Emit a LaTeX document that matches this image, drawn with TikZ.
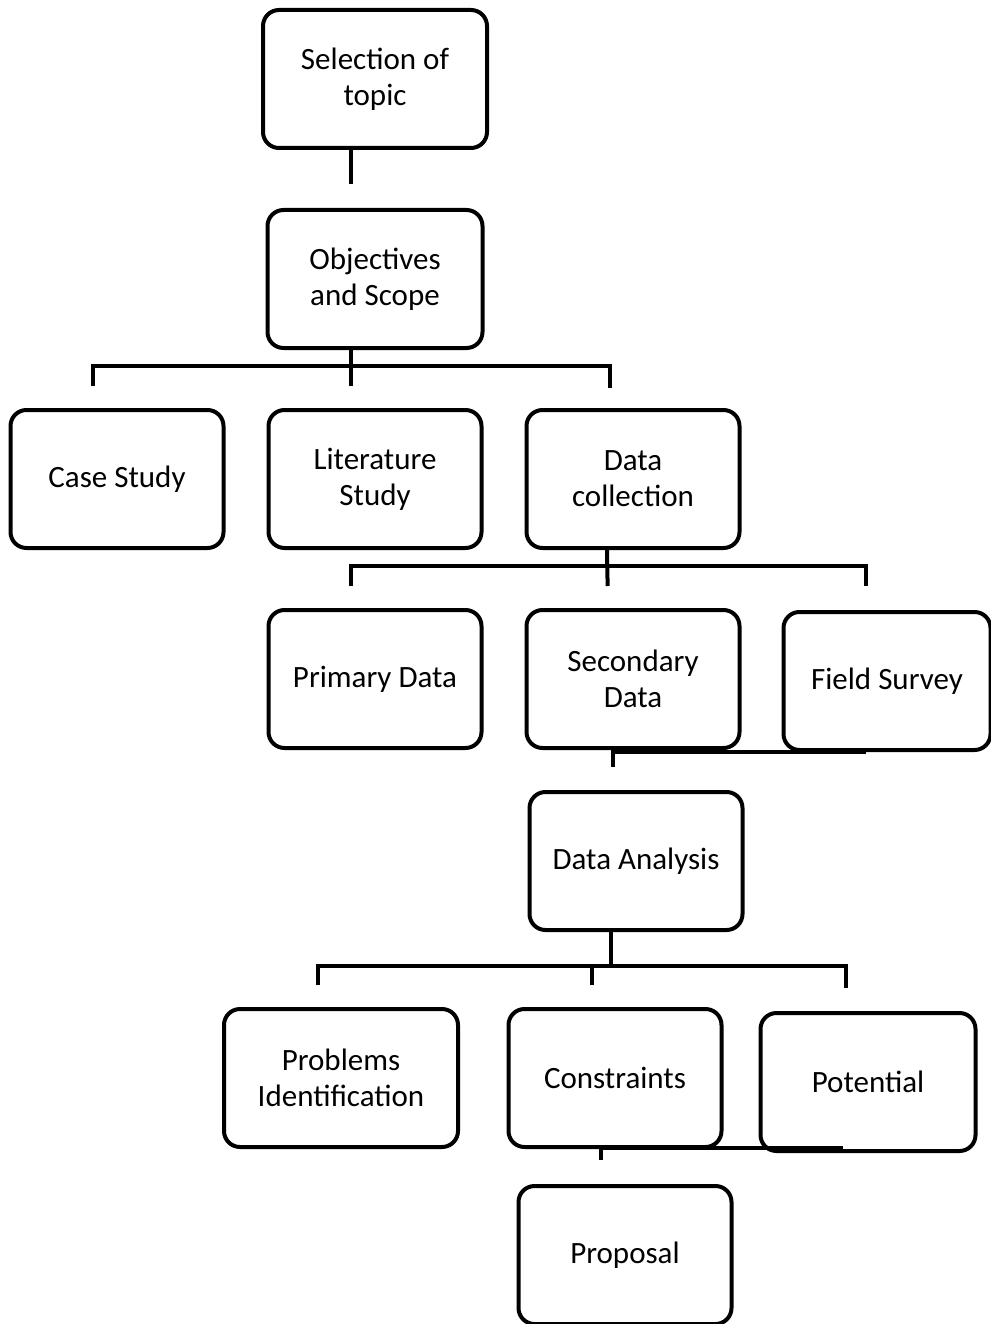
\documentclass[tikz,border=0pt]{standalone}
\usepackage{fontspec}
\setmainfont{Carlito}
\usetikzlibrary{positioning}

\begin{document}
\begin{tikzpicture}[x=1pt,y=-1pt,node distance=200pt,line width=4pt,
    box/.style={rectangle,draw,rounded corners=16pt,minimum width=213pt,minimum height=138pt,align=center,font=\fontsize{31}{36}\selectfont},
    link/.style={draw,line width=4pt}]
                \useasboundingbox (0,0) rectangle (990,1324);

                \node[box, minimum width=224pt] (1) at (375,79) {Selection of\\topic};
                \node[box, minimum width=215pt] (2) [below of = 1] {Objectives\\and Scope};
                \node[box] (4) [below of = 2] {Literature\\Study};
                \node[box] (3) [left of = 4, node distance=258pt] {Case Study};
                \node[box] (5) [right of = 4, node distance=258pt] {Data\\collection};
                \node[box] (6) [below of = 4] {Primary Data};
                \node[box] (7) [below of = 5] {Secondary\\Data};
                \node[box, minimum width=207pt] (8) [right of = 7, node distance=254pt, yshift=-2pt] {Field Survey};
                \node[box] (9) [below of = 7, node distance=182pt, xshift=3pt] {Data Analysis};
                \node[box] (11) [below of = 9, node distance=217pt, xshift=-21pt] {Constraints};
                \node[box, minimum width=234pt] (10) [left of = 11, node distance=274pt] {Problems\\Identification};
                \node[box, minimum width=215pt] (12) [right of = 11, node distance=253pt, yshift=-4pt] {Potential};
                \node[box] (13) [below of = 11, node distance=177pt, xshift=10pt] {Proposal};

                % topic -> objectives
                \draw[link, shorten >=24pt] ([xshift=-24pt]1.south) -- ([xshift=-24pt]2.north);

                % objectives -> studies
                \draw[link, shorten >=22pt] ([xshift=-24pt]2.south) -- ([xshift=-24pt]4.north);
                \draw[link] ([xshift=-24pt,yshift=22pt]3.north) |- ([xshift=-23pt,yshift=42pt]5.north) -- ([xshift=-23pt,yshift=20pt]5.north);

                % data collection -> data types
                \draw[link, shorten >=22pt] ([xshift=-26pt]5.south) -- ([xshift=-25pt]7.north);
                \draw[link] ([xshift=-24pt,yshift=22pt]6.north) |- ([xshift=-21pt,yshift=44pt]8.north) -- ([xshift=-21pt,yshift=24pt]8.north);

                % data -> analysis
                \draw[link] ([xshift=-21pt]8.south) -| ([xshift=-23pt,yshift=23pt]9.north);

                % analysis -> results
                \draw[link] ([xshift=-25pt]9.south) |- ([xshift=-23pt,yshift=41pt]11.north) -- ([xshift=-23pt,yshift=22pt]11.north);
                \draw[link] ([xshift=-23pt,yshift=22pt]10.north) |- ([xshift=-22pt,yshift=45pt]12.north) -- ([xshift=-22pt,yshift=23pt]12.north);

                % results -> proposal
                \draw[link] ([xshift=-25pt,yshift=5pt]12.south) -| ([xshift=-24pt,yshift=24pt]13.north);
            \end{tikzpicture}
\end{document}
